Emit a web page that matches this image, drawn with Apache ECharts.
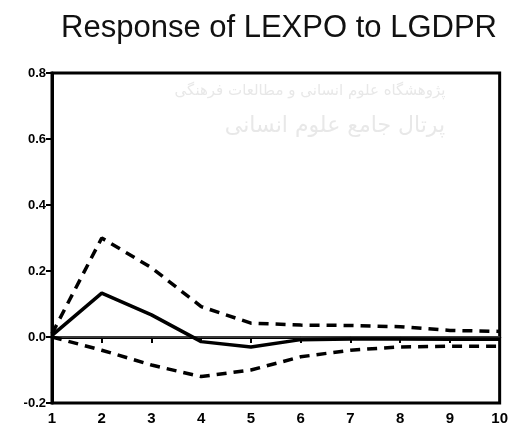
<!DOCTYPE html>
<html><head><meta charset="utf-8">
<script src="https://cdn.jsdelivr.net/npm/echarts@6/dist/echarts.min.js"></script>
<style>html,body{margin:0;padding:0;background:#fff}#c{width:511px;height:434px}</style>
</head><body><div id="c"></div>
<script>
const periods = ['1','2','3','4','5','6','7','8','9','10'];
const response = [0.005, 0.133, 0.067, -0.014, -0.03, -0.008, -0.006, -0.006, -0.007, -0.007];
const upperBand = [0.01, 0.30, 0.21, 0.092, 0.042, 0.036, 0.035, 0.031, 0.02, 0.017];
const lowerBand = [0.0, -0.04, -0.085, -0.12, -0.10, -0.06, -0.04, -0.03, -0.028, -0.028];
const yTicks = [-0.2, 0.0, 0.2, 0.4, 0.6, 0.8];
const zeroLine = periods.map(() => 0);

const chart = echarts.init(document.getElementById('c'), null, {renderer: 'canvas'});
chart.setOption({
  animation: false,
  backgroundColor: '#fff',
  title: {
    text: 'Response of LEXPO to LGDPR',
    left: 274, top: 8, textAlign: 'center',
    textStyle: {fontFamily: 'Liberation Sans, Arial', fontSize: 31, fontWeight: 'normal', color: '#111'}
  },
  graphic: [
    {type: 'text', x: 310, y: 84, style: {text: 'پژوهشگاه علوم انسانی و مطالعات فرهنگی', font: '15px "DejaVu Sans"', fill: '#e8e8e8', align: 'center'}},
    {type: 'text', x: 335, y: 115, style: {text: 'پرتال جامع علوم انسانی', font: '22px "DejaVu Sans"', fill: '#e8e8e8', align: 'center'}}
  ],
  grid: {left: 52, right: 9, top: 73, bottom: 31, show: true, borderColor: '#000', borderWidth: 3},
  xAxis: {
    type: 'category', data: periods, boundaryGap: false,
    axisLine: {show: true, lineStyle: {color: '#000', width: 3}},
    axisTick: {show: true, inside: false, length: 6, lineStyle: {color: '#000', width: 2}},
    axisLabel: {color: '#000', fontFamily: 'Liberation Sans, Arial', fontWeight: 'bold', fontSize: 15, margin: 8},
    splitLine: {show: false}
  },
  yAxis: {
    type: 'value', min: -0.2, max: 0.8, interval: 0.2,
    axisLine: {show: true, lineStyle: {color: '#000', width: 3}},
    axisTick: {show: true, length: 6, lineStyle: {color: '#000', width: 2}},
    axisLabel: {color: '#000', fontFamily: 'Liberation Sans, Arial', fontWeight: 'bold', fontSize: 13, margin: 6,
      formatter: v => (Math.abs(v) < 1e-9 ? 0 : v).toFixed(1)},
    splitLine: {show: false}
  },
  series: [
    {type: 'line', data: zeroLine, symbol: 'none', silent: true, lineStyle: {color: '#777', width: 1}, z: 1},
    {type: 'line', data: upperBand, symbol: 'none', lineStyle: {color: '#000', width: 3.5, type: [10, 7]}},
    {type: 'line', data: lowerBand, symbol: 'none', lineStyle: {color: '#000', width: 3.5, type: [10, 7]}},
    {type: 'line', data: response, symbol: 'none', lineStyle: {color: '#000', width: 3.5}}
  ]
});
</script></body></html>
